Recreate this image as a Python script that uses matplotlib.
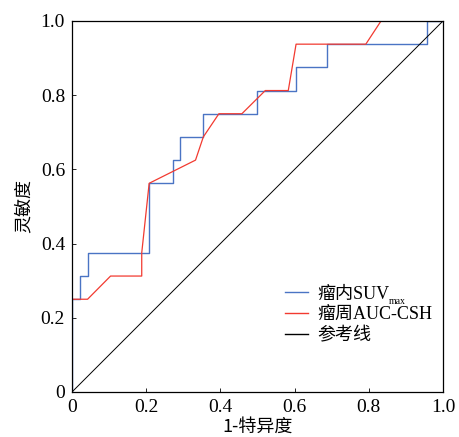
import matplotlib
matplotlib.use("Agg")
import matplotlib.pyplot as plt

plt.rcParams['font.family'] = ['Liberation Serif', 'Noto Sans CJK SC']
plt.rcParams['axes.unicode_minus'] = False

# ROC curve of SUVmax inside tumour (step curve)
suv_fpr = [0, 0, 0.021, 0.021, 0.042, 0.042, 0.208, 0.208, 0.271, 0.271, 0.292, 0.292,
           0.354, 0.354, 0.5, 0.5, 0.604, 0.604, 0.688, 0.688, 0.958, 0.958, 1.0]
suv_tpr = [0, 0.25, 0.25, 0.3125, 0.3125, 0.375, 0.375, 0.5625, 0.5625, 0.625, 0.625, 0.6875,
           0.6875, 0.75, 0.75, 0.8125, 0.8125, 0.875, 0.875, 0.9375, 0.9375, 1.0, 1.0]

# ROC curve of peritumoural AUC-CSH
auc_fpr = [0, 0, 0.042, 0.104, 0.188, 0.188, 0.208, 0.333, 0.354, 0.396, 0.458,
           0.521, 0.583, 0.604, 0.792, 0.833, 1.0]
auc_tpr = [0, 0.25, 0.25, 0.3125, 0.3125, 0.375, 0.5625, 0.625, 0.6875, 0.75, 0.75,
           0.8125, 0.8125, 0.9375, 0.9375, 1.0, 1.0]

ticks = [0, 0.2, 0.4, 0.6, 0.8, 1.0]
tick_labels = ['0', '0.2', '0.4', '0.6', '0.8', '1.0']

fig = plt.figure(figsize=(4.6, 4.37), dpi=100)
ax = fig.add_axes([0.1565, 0.103, 0.8065, 0.849])

ax.plot(suv_fpr, suv_tpr, color='#4a74c4', lw=1.0, label='瘤内SUV')
ax.plot(auc_fpr, auc_tpr, color='#f23a30', lw=0.9, label='瘤周AUC-CSH')
ax.plot([0, 1], [0, 1], color='black', lw=0.7, label='参考线')

ax.set_xlim(0, 1)
ax.set_ylim(0, 1)
ax.set_xticks(ticks)
ax.set_yticks(ticks)
ax.set_xticklabels(tick_labels)
ax.set_yticklabels(tick_labels)
ax.tick_params(direction='in', length=3, width=0.6, labelsize=14, pad=5,
               top=False, right=False)
for s in ax.spines.values():
    s.set_linewidth(0.9)

ax.set_xlabel('1-特异度', fontsize=13, family=['Noto Sans CJK SC'], labelpad=1)
ax.set_ylabel('灵敏度', fontsize=13, family=['Noto Sans CJK SC'], labelpad=6)

leg = ax.legend(loc='lower right', bbox_to_anchor=(1.0, 0.1), frameon=False, fontsize=13,
                handlelength=1.3, handletextpad=0.5, labelspacing=0.2, borderaxespad=0.2)
for h in leg.legend_handles:
    h.set_linewidth(1.0)

# subscript "max" after SUV in the first legend entry
fig.canvas.draw()
bb = leg.get_texts()[0].get_window_extent()
fig.text(bb.x1 / fig.bbox.width, (bb.y0 - 3) / fig.bbox.height, 'max', fontsize=7,
         ha='left', va='bottom')

fig.savefig('out.png', dpi=100)
